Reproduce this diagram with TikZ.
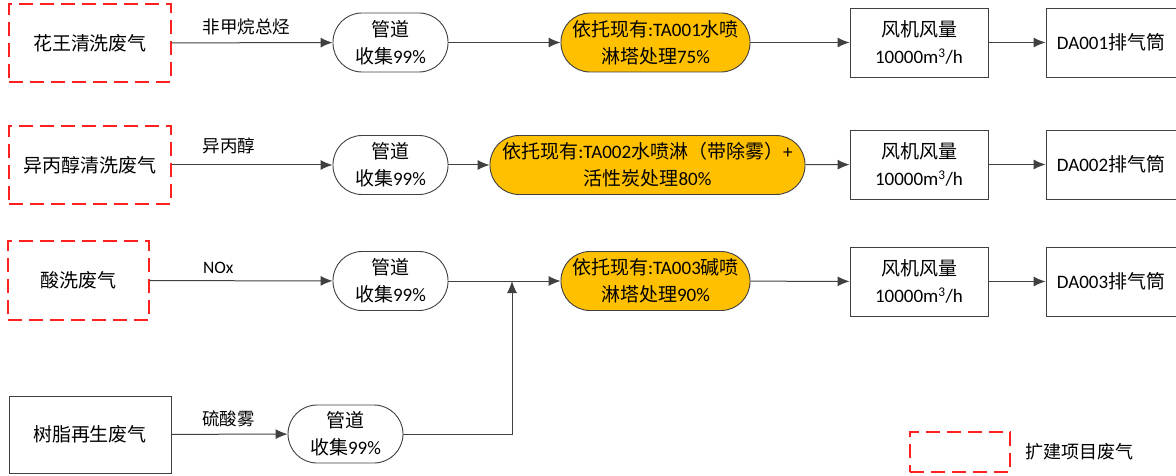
\documentclass[tikz,border=0pt]{standalone}
\usepackage{fontspec}
\setmainfont{Noto Sans CJK SC}
\newfontfamily\lat{Carlito}
\usetikzlibrary{arrows.meta,positioning}
\definecolor{linegray}{HTML}{404040}
\definecolor{treatfill}{HTML}{FFC000}
\definecolor{dashred}{HTML}{FF2020}

\begin{document}
\begin{tikzpicture}[x=1pt,y=-1pt,
  font=\fontsize{19}{27}\selectfont,
  newsrc/.style={draw=dashred,line width=1.1pt,dash pattern=on 14pt off 7pt,minimum width=162pt,minimum height=78pt,inner sep=0pt},
  oldsrc/.style={draw=linegray,line width=0.9pt,minimum width=162pt,minimum height=77pt,inner sep=0pt},
  pipe/.style={draw=linegray,line width=0.9pt,rounded corners=29pt,minimum width=115pt,minimum height=59pt,align=center,inner sep=0pt},
  treat/.style={pipe,fill=treatfill,minimum width=189pt},
  fanbox/.style={draw=linegray,line width=0.9pt,minimum width=138pt,minimum height=69pt,align=center,inner sep=0pt},
  stackbox/.style={fanbox,minimum width=130pt},
  flow/.style={draw=linegray,line width=1pt,-{Latex[length=12pt,width=10pt]}},
  gaslbl/.style={anchor=south west,inner sep=0pt,yshift=7pt,font=\fontsize{17.5}{21}\selectfont}]
\useasboundingbox (0,0) rectangle (1176,476);

% row 1
\node [newsrc] (src1) at (90,43) {花王清洗废气};
\node [pipe] (pipe1) at (390.5,42.5) {管道\\收集{\lat 99\%}};
\node [treat] (treat1) at (655.5,42.5) {依托现有{\lat :TA001}水喷\\淋塔处理{\lat 75\%}};
\node [fanbox] (fan1) at (919,42.5) {风机风量\\{\lat 10000m\textsuperscript{3}/h}};
\node [stackbox] (stack1) at (1111,42.5) {{\lat DA001}排气筒};

% row 2
\node [newsrc] (src2) at (90,165) {异丙醇清洗废气};
\node [pipe] (pipe2) at (390.5,165) {管道\\收集{\lat 99\%}};
\node [treat,minimum width=315pt] (treat2) at (647.5,165) {依托现有{\lat :TA002}水喷淋（带除雾）{\lat +}\\活性炭处理{\lat 80\%}};
\node [fanbox] (fan2) at (919,164.5) {风机风量\\{\lat 10000m\textsuperscript{3}/h}};
\node [stackbox] (stack2) at (1111,164.5) {{\lat DA002}排气筒};

% row 3
\node [newsrc,minimum width=141pt,minimum height=79pt] (src3) at (78.5,280.5) {酸洗废气};
\node [pipe] (pipe3) at (390.5,281) {管道\\收集{\lat 99\%}};
\node [treat] (treat3) at (655.5,281) {依托现有{\lat :TA003}碱喷\\淋塔处理{\lat 90\%}};
\node [fanbox] (fan3) at (919,281.5) {风机风量\\{\lat 10000m\textsuperscript{3}/h}};
\node [stackbox] (stack3) at (1111,281.5) {{\lat DA003}排气筒};
\coordinate (join) at (512,281);

% row 4
\node [oldsrc] (src4) at (90,434.5) {树脂再生废气};
\node [pipe,minimum height=58pt] (pipe4) at (345.5,434) {管道\\收集{\lat 99\%}};

% legend
\node [newsrc,minimum width=100pt,minimum height=40pt] (leg) at (960,452) {};
\node [right=15pt of leg,inner sep=0pt,font=\fontsize{18}{22}\selectfont] (legtxt) {扩建项目废气};

\draw [flow] (src1) -- node [gaslbl,pos=0.19] {非甲烷总烃} (pipe1);
\draw [flow] (pipe1) -- (treat1);
\draw [flow] (treat1) -- (fan1);
\draw [flow] (fan1) -- (stack1);

\draw [flow] (src2) -- node [gaslbl,pos=0.19,yshift=4pt] {异丙醇} (pipe2);
\draw [flow] (pipe2) -- (treat2);
\draw [flow] (treat2) -- (fan2);
\draw [flow] (fan2) -- (stack2);

\draw [flow] (src3) -- node [gaslbl,pos=0.29] {\lat NOx} (pipe3);
\draw [flow] (pipe3) -- (treat3);
\draw [flow] (treat3) -- (fan3);
\draw [flow] (fan3) -- (stack3);

\draw [flow] (src4) -- node [gaslbl,pos=0.26] {硫酸雾} (pipe4);
\draw [flow] (pipe4) -| (join);
\end{tikzpicture}
\end{document}
